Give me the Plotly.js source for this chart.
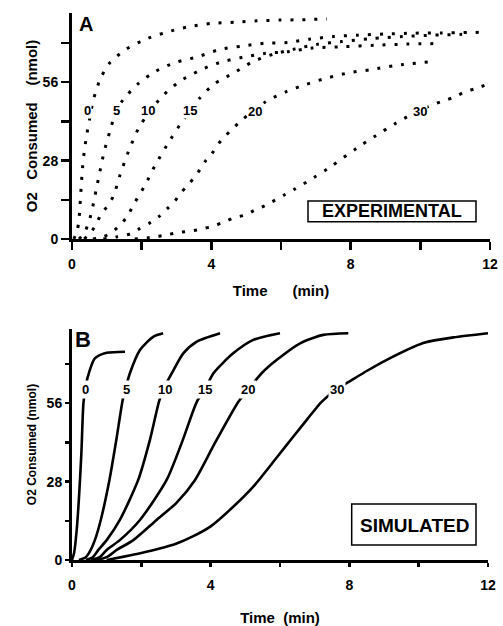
<!DOCTYPE html>
<html>
<head>
<meta charset="utf-8">
<script src="https://cdn.plot.ly/plotly-3.0.1.min.js"></script>
<style>html,body{margin:0;padding:0;background:#fff;}#chart{width:503px;height:626px;}</style>
</head>
<body>
<div id="chart"></div>
<script>
// ---- Panel A: experimental (time in min, O2 consumed in nmol) ----
const seriesNames = ['0', '5', '10', '15', '20', '30'];

const expT0 = [0.05,0.15,0.2,0.23,0.26,0.3,0.35,0.42,0.5,0.61,0.8,1.07,1.55,2.05,2.7,3.34,4.01,4.68,5.31,5.98,6.6,7.32];
const expY0 = [0,3,7,12,18,25,31,37,42.5,49.5,56.8,62.7,67.7,71,73.8,75.8,77,77.4,77.9,78.2,78.3,78.6];

const expT5 = [0.2,0.35,0.45,0.55,0.62,0.7,0.8,0.92,1.1,1.25,1.46,1.91,2.39,2.96,3.61,4.25,4.9,5.52,6.2,6.84,7.51,8.2,9.0,9.8,10.6,11.7];
const expY5 = [0,2,5,9,13,18,24,31,39,45,49.6,55.6,59.8,63,65.1,67.7,68.9,69.9,70.2,71.4,72.3,72.8,73.2,73.5,73.6,73.8];

const expT10 = [0.35,0.55,0.7,0.85,1.0,1.19,1.38,1.62,1.91,2.2,2.58,3.07,3.65,4.23,4.9,5.56,6.2,6.89,7.82,8.7,9.6,10.48];
const expY10 = [0,2.5,5.5,9.2,11.5,15.4,22.9,31.2,39.5,45,50.8,56.1,60.1,63,64.9,66.3,66.9,68.2,68.7,69.2,69.6,69.8];

const expT15 = [0.6,0.9,1.09,1.33,1.57,1.81,2.1,2.39,2.82,3.18,3.65,4.09,4.66,5.19,5.78,6.41,7.03,7.73,8.6,9.5,10.4,11.2];
const expY15 = [0,0.8,2,4.4,7.8,13.2,19.3,26.4,35.4,42.3,50.1,55.4,59.4,63.3,66,67.9,69.5,70.5,71.6,72.3,72.8,73.1];

const expT20 = [0.9,1.3,1.71,1.95,2.27,2.51,2.72,2.94,3.1,3.31,3.49,3.68,3.85,4.01,4.2,4.4,4.62,4.86,5.56,6.15,6.72,7.35,7.97,8.6,9.3,10.29];
const expY20 = [0,0.8,2,3.8,6,8.2,10.7,13.3,16.2,19,21.7,24.9,28.2,30.4,33.9,36.8,39.5,42.3,49,52.6,55.2,57.6,59.4,60.5,62,63.3];

const expT30 = [1.8,2.3,2.72,3.1,3.44,3.73,4.04,4.35,4.66,4.97,5.26,5.57,6.09,6.39,6.94,7.39,8.18,8.71,9.25,9.54,10.34,10.67,11.0,11.29,11.61,11.87];
const expY30 = [0,0.6,1.5,2.4,2.9,3.6,4.6,6,7.6,8.6,10.4,12.1,15.7,17.8,21.9,25.5,32.5,36.8,41,43.1,47.9,49.3,50.8,52.6,53.8,55];

// ---- Panel B: simulated ----
const simT0 = [0,0.06,0.13,0.2,0.27,0.33,0.4,0.5,0.66,1.0,1.53];
const simY0 = [0,2.5,10,22,38,56,62.5,67.3,72,74,74.4];

const simT5 = [0.2,0.4,0.54,0.66,0.83,1.08,1.28,1.46,1.56,1.67,1.96,2.35,2.63];
const simY5 = [0,1,3.6,7.1,14.3,28.6,43,57,62,66.7,75,79.8,81];

const simT10 = [0.4,0.6,0.76,1.0,1.38,1.91,2.25,2.52,2.68,2.88,3.21,3.6,4.27];
const simY10 = [0,1,3.6,7.1,14.3,28.6,43,57,62,66.7,73.8,78,81];

const simT15 = [0.55,0.8,1.0,1.38,1.96,2.73,3.2,3.6,3.84,4.08,4.65,5.23,6.0];
const simY15 = [0,1,3.6,7.1,14.3,28.6,43,56.5,61,66.7,73.8,78.6,81];

const simT20 = [0.7,1.0,1.29,1.77,2.44,3.02,3.55,4.12,4.8,5.09,5.47,5.9,6.58,7.25,7.97];
const simY20 = [0,1,3.6,7.1,14.3,20.5,28.6,41.7,56.5,61,66.7,71.4,77.4,80.4,81];

const simT30 = [1.0,1.5,2.0,2.5,3.0,3.5,4.0,4.65,5.23,5.9,6.38,6.8,7.2,7.63,7.97,8.5,9.08,10.13,11.0,12.0];
const simY30 = [0,1.2,2.5,4,5.8,8.5,12,19,26.2,36.5,44,50.5,56.5,61,63.5,67.5,71.5,77.5,79.5,81];

// ---- Axis tick labels ----
const xTickVals = [0,2,4,6,8,10,12];
const xTickText = ['0','','4','','8','','12'];
const yTickVals = [0,14,28,42,56,70];
const yTickText = ['0','','28','','56',''];

const expT = [expT0, expT5, expT10, expT15, expT20, expT30];
const expY = [expY0, expY5, expY10, expY15, expY20, expY30];
const simT = [simT0, simT5, simT10, simT15, simT20, simT30];
const simY = [simY0, simY5, simY10, simY15, simY20, simY30];

const FONT = '"Liberation Sans", Arial, Helvetica, sans-serif';
const NB = '\u00a0';
const traces = [];
seriesNames.forEach((n, i) => {
  traces.push({
    x: expT[i], y: expY[i], type: 'scatter', mode: 'lines', name: 'Exp ' + n,
    xaxis: 'x', yaxis: 'y',
    line: {color: '#000', width: 3, dash: '3px,9px', shape: 'spline', smoothing: 0.8},
    hoverinfo: 'skip', showlegend: false
  });
});
seriesNames.forEach((n, i) => {
  traces.push({
    x: simT[i], y: simY[i], type: 'scatter', mode: 'lines', name: 'Sim ' + n,
    xaxis: 'x2', yaxis: 'y2',
    line: {color: '#000', width: 2.6, shape: 'spline', smoothing: 0.7},
    hoverinfo: 'skip', showlegend: false
  });
});

const tickFont = {family: FONT, size: 14, color: '#000', weight: 'bold'};
function xAx(domain, anchor, ticklen, titleText, standoff, tsize, lstand) {
  return {
    domain: domain, anchor: anchor, range: [0, 12],
    tickmode: 'array', tickvals: xTickVals, ticktext: xTickText,
    ticks: 'outside', ticklen: ticklen, tickwidth: 2.5, tickcolor: '#000',
    ticklabelstandoff: lstand,
    showline: true, linewidth: 3, linecolor: '#000', mirror: false,
    showgrid: false, zeroline: false, tickfont: tickFont,
    title: {text: titleText, standoff: standoff, font: {family: FONT, size: tsize, color: '#000', weight: 'bold'}}
  };
}
function yAx(domain, anchor, range, ticklen, titleText, standoff, tsize) {
  return {
    domain: domain, anchor: anchor, range: range,
    tickmode: 'array', tickvals: yTickVals, ticktext: yTickText,
    ticks: 'outside', ticklen: ticklen, tickwidth: 2.5, tickcolor: '#000',
    showline: true, linewidth: 3, linecolor: '#000',
    showgrid: false, zeroline: false, tickfont: tickFont,
    title: {text: titleText, standoff: standoff, font: {family: FONT, size: tsize, color: '#000', weight: 'bold'}}
  };
}

const labA = [[0.44,46],[1.28,46],[2.19,46],[3.39,46],[5.26,45.5],[9.98,45.5]];
const labB = [[0.40,61],[1.56,61],[2.68,61],[3.84,61],[5.09,61],[7.63,61]];
const annotations = [];
seriesNames.forEach((n, i) => {
  annotations.push({x: labA[i][0], y: labA[i][1], xref: 'x', yref: 'y', text: n, showarrow: false,
    xanchor: 'center', yanchor: 'middle',
    font: {family: FONT, size: 13, color: '#000', weight: 'bold'}, bgcolor: '#fff', borderpad: 0});
  annotations.push({x: labB[i][0], y: labB[i][1], xref: 'x2', yref: 'y2', text: n, showarrow: false,
    xanchor: 'center', yanchor: 'middle',
    font: {family: FONT, size: 13, color: '#000', weight: 'bold'}, bgcolor: '#fff', borderpad: 1});
});
function paperText(px, py, text, size) {
  return {x: px/503, y: 1 - py/626, xref: 'paper', yref: 'paper', text: text, showarrow: false,
    xanchor: 'center', yanchor: 'middle',
    font: {family: FONT, size: size, color: '#000', weight: 'bold'}};
}
annotations.push(paperText(85.5, 24, 'A', 20));
annotations.push(paperText(83, 340, 'B', 22));
annotations.push(paperText(392, 211.5, 'EXPERIMENTAL', 18));
annotations.push(paperText(414, 525, 'SIMULATED', 19));

const shapes = [
  {type: 'rect', xref: 'paper', yref: 'paper', x0: 308/503, x1: 476/503, y0: 1 - 221.7/626, y1: 1 - 201/626,
   line: {color: '#000', width: 1.5}, fillcolor: '#fff', layer: 'above'},
  {type: 'rect', xref: 'paper', yref: 'paper', x0: 351.7/503, x1: 476/503, y0: 1 - 545/626, y1: 1 - 504/626,
   line: {color: '#000', width: 1.5}, fillcolor: '#fff', layer: 'above'}
];

const layout = {
  width: 503, height: 626,
  margin: {l: 0, r: 0, t: 0, b: 0},
  paper_bgcolor: '#fff', plot_bgcolor: '#fff',
  showlegend: false,
  xaxis: xAx([72/503, 490/503], 'y', 8, 'Time' + NB.repeat(6) + '(min)', 15, 15, 2),
  yaxis: yAx([1 - 239/626, 1 - 13/626], 'x', [0, 80.71], 8, 'O2' + NB.repeat(3) + 'Consumed' + NB.repeat(4) + '(nmol)', 2, 15),
  xaxis2: xAx([72/503, 488/503], 'y2', 4, 'Time' + NB.repeat(2) + '(min)', 24, 15, 6),
  yaxis2: yAx([1 - 560/626, 1 - 329/626], 'x2', [0, 82.5], 4, 'O2 Consumed (nmol)' + NB.repeat(14), 8, 12),
  annotations: annotations,
  shapes: shapes
};

Plotly.newPlot('chart', traces, layout, {staticPlot: true, displayModeBar: false});
</script>
</body>
</html>
